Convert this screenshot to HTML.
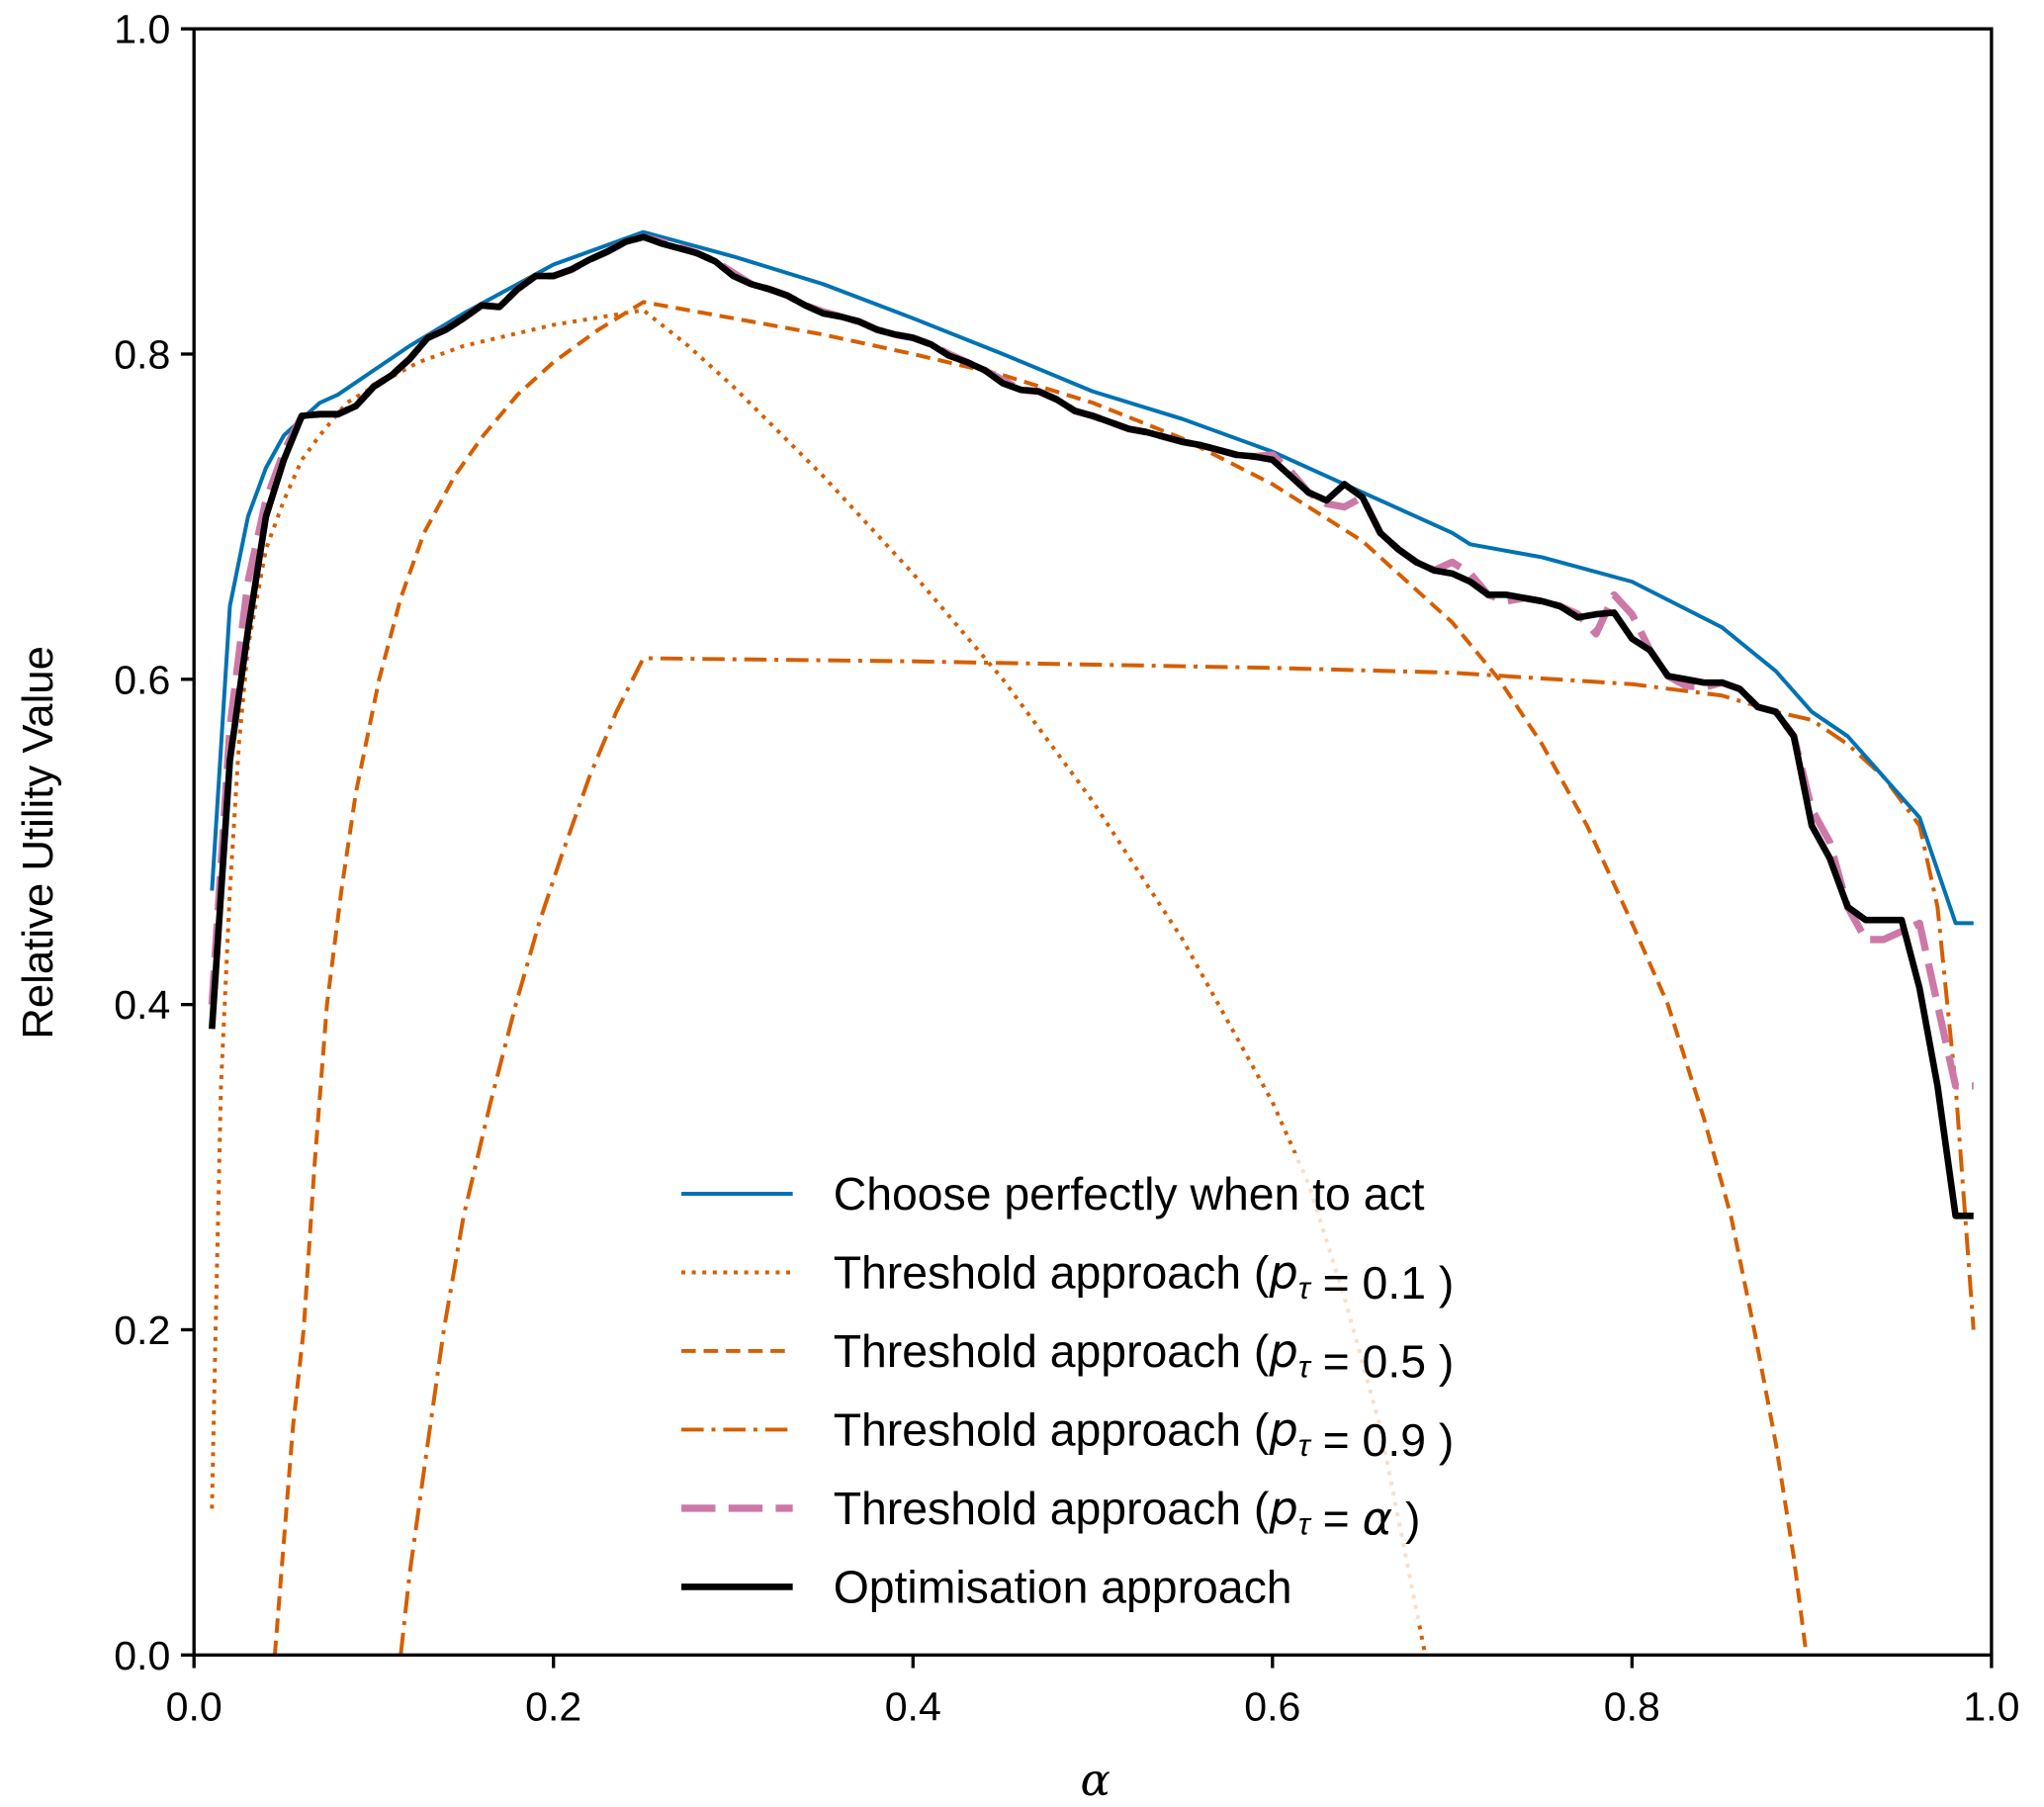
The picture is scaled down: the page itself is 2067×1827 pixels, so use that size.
<!DOCTYPE html>
<html><head><meta charset="utf-8"><style>
html,body{margin:0;padding:0;background:#fff}
svg{display:block;font-family:"Liberation Sans",sans-serif}
</style></head><body>
<svg id="chart" width="2067" height="1827" viewBox="0 0 1560 1379" xmlns="http://www.w3.org/2000/svg">
<rect x="0" y="0" width="1560" height="1379" fill="#fff"/>
<g id="series"></g>
<g id="legend"></g>
<rect x="148" y="22" width="1372" height="1241" fill="none" stroke="#000" stroke-width="2.5"/>
<g id="axes"></g>
<text transform="translate(40,643) rotate(-90)" text-anchor="middle" font-size="33">Relative Utility Value</text>
<text x="836" y="1370" text-anchor="middle" font-size="34" font-style="italic" font-family="DejaVu Serif, serif">α</text>
</svg>
<script>
const xTicks=[0,0.2,0.4,0.6,0.8,1.0];
const xTickLabels=["0.0","0.2","0.4","0.6","0.8","1.0"];
const yTicks=[0,0.2,0.4,0.6,0.8,1.0];
const yTickLabels=["0.0","0.2","0.4","0.6","0.8","1.0"];

const perfectX=[0.01,0.02,0.03,0.04,0.05,0.06,0.07,0.08,0.1,0.12,0.15,0.2,0.25,0.3,0.35,0.4,0.45,0.5,0.55,0.6,0.65,0.7,0.71,0.75,0.8,0.85,0.88,0.9,0.92,0.94,0.96,0.98,0.99];
const perfectY=[0.47,0.645,0.70,0.73,0.75,0.76,0.77,0.775,0.79,0.805,0.825,0.855,0.875,0.86,0.843,0.822,0.8,0.777,0.76,0.74,0.715,0.69,0.683,0.675,0.66,0.632,0.605,0.58,0.565,0.54,0.515,0.45,0.45];

const p01X=[0.01,0.012,0.015,0.02,0.025,0.03,0.04,0.05,0.06,0.07,0.085,0.1,0.125,0.15,0.2,0.25,0.275,0.3,0.35,0.4,0.45,0.5,0.55,0.6,0.62,0.64,0.66,0.685];
const p01Y=[0.09,0.2,0.35,0.47,0.56,0.62,0.68,0.71,0.735,0.75,0.77,0.78,0.795,0.805,0.818,0.827,0.805,0.78,0.725,0.665,0.6,0.525,0.44,0.34,0.29,0.22,0.14,0.0];

const p05X=[0.045,0.05,0.055,0.061,0.067,0.074,0.082,0.09,0.103,0.115,0.128,0.145,0.161,0.18,0.2,0.225,0.25,0.3,0.35,0.4,0.45,0.5,0.55,0.6,0.65,0.7,0.726,0.75,0.775,0.8,0.82,0.84,0.855,0.868,0.88,0.89,0.897];
const p05Y=[0.0,0.07,0.14,0.2,0.3,0.4,0.47,0.53,0.6,0.65,0.69,0.725,0.75,0.775,0.795,0.815,0.832,0.822,0.812,0.80,0.787,0.77,0.748,0.72,0.685,0.635,0.6,0.56,0.51,0.45,0.4,0.33,0.27,0.2,0.13,0.06,0.0];

const p09X=[0.115,0.12,0.13,0.139,0.15,0.165,0.179,0.192,0.204,0.22,0.235,0.25,0.4,0.6,0.7,0.8,0.85,0.88,0.9,0.92,0.94,0.96,0.97,0.98,0.99];
const p09Y=[0.0,0.05,0.13,0.2,0.27,0.34,0.4,0.45,0.49,0.54,0.58,0.613,0.611,0.607,0.604,0.597,0.59,0.58,0.575,0.56,0.54,0.51,0.46,0.35,0.2];

const optY=[0.385,0.55,0.63,0.70,0.735,0.762,0.763,0.763,0.768,0.78,0.787,0.797,0.81,0.815,0.822,0.83,0.829,0.84,0.848,0.848,0.852,0.858,0.863,0.869,0.872,0.868,0.865,0.862,0.857,0.848,0.843,0.84,0.836,0.83,0.825,0.823,0.82,0.815,0.812,0.81,0.806,0.799,0.795,0.79,0.782,0.778,0.777,0.772,0.765,0.762,0.758,0.754,0.752,0.749,0.746,0.744,0.741,0.738,0.737,0.735,0.725,0.715,0.71,0.72,0.712,0.69,0.68,0.672,0.667,0.665,0.66,0.652,0.652,0.65,0.648,0.645,0.638,0.64,0.641,0.625,0.618,0.602,0.6,0.598,0.598,0.594,0.583,0.58,0.565,0.51,0.49,0.46,0.452,0.452,0.452,0.41,0.35,0.27,0.27];
const alphaY=[0.40,0.57,0.66,0.71,0.74,0.762,0.763,0.763,0.768,0.78,0.787,0.797,0.81,0.815,0.822,0.83,0.829,0.84,0.848,0.848,0.852,0.858,0.863,0.869,0.872,0.869,0.866,0.862,0.857,0.85,0.843,0.84,0.836,0.83,0.826,0.823,0.82,0.815,0.812,0.81,0.806,0.8,0.795,0.79,0.784,0.778,0.777,0.772,0.765,0.762,0.758,0.754,0.752,0.749,0.746,0.744,0.741,0.738,0.737,0.738,0.728,0.715,0.708,0.706,0.712,0.69,0.68,0.672,0.667,0.672,0.665,0.652,0.648,0.65,0.648,0.645,0.64,0.628,0.652,0.64,0.618,0.602,0.596,0.595,0.598,0.594,0.583,0.58,0.565,0.52,0.5,0.46,0.44,0.44,0.445,0.45,0.40,0.35,0.35];
const gridAlpha=[];
for(let i=1;i<=optY.length;i++) gridAlpha.push(i/100);

const L=148,R=1520,T=22,B=1263;
const sx=v=>L+(R-L)*v;
const sy=v=>B-(B-T)*v;
const NS="http://www.w3.org/2000/svg";
function mk(tag,parent){const e=document.createElementNS(NS,tag);parent.appendChild(e);return e;}
function path(xs,ys){return xs.slice(0,ys.length).map((x,i)=>(i?"L":"M")+sx(x).toFixed(1)+","+sy(ys[i]).toFixed(1)).join("");}

const series=document.getElementById("series");
const defs=[
 {name:"line-threshold-0-1",xs:p01X,ys:p01Y,c:"#D55E00",w:3,d:"3,5"},
 {name:"line-threshold-0-5",xs:p05X,ys:p05Y,c:"#D55E00",w:3,d:"11,6"},
 {name:"line-threshold-0-9",xs:p09X,ys:p09Y,c:"#D55E00",w:3,d:"17,6,3,6"},
 {name:"line-perfect",xs:perfectX,ys:perfectY,c:"#0072B2",w:3,d:""},
 {name:"line-threshold-alpha",xs:gridAlpha,ys:alphaY,c:"#CC79A7",w:5.5,d:"26,10"},
 {name:"line-optimisation",xs:gridAlpha,ys:optY,c:"#000",w:5,d:""}
];
const clip=mk("clipPath",series);clip.setAttribute("id","pc");
const cr=mk("rect",clip);cr.setAttribute("x",L);cr.setAttribute("y",T);cr.setAttribute("width",R-L);cr.setAttribute("height",B-T);
defs.forEach(s=>{
 const p=mk("path",series);
 
 
 p.setAttribute("d",path(s.xs,s.ys));
 p.setAttribute("fill","none");p.setAttribute("stroke",s.c);p.setAttribute("stroke-width",s.w);
 p.setAttribute("stroke-linejoin","round");p.setAttribute("clip-path","url(#pc)");
 if(s.d)p.setAttribute("stroke-dasharray",s.d);
});

const axes=document.getElementById("axes");
xTicks.forEach((t,i)=>{
 const l=mk("line",axes);
 
 
 l.setAttribute("x1",sx(t));l.setAttribute("x2",sx(t));l.setAttribute("y1",B);l.setAttribute("y2",B+10);l.setAttribute("stroke","#000");l.setAttribute("stroke-width",2.5);
 const tx=mk("text",axes);
 
 
 tx.setAttribute("x",sx(t));tx.setAttribute("y",B+50);tx.setAttribute("text-anchor","middle");tx.setAttribute("font-size","31");
 tx.textContent=xTickLabels[i];
});
yTicks.forEach((t,i)=>{
 const l=mk("line",axes);
 
 
 l.setAttribute("x1",L-10);l.setAttribute("x2",L);l.setAttribute("y1",sy(t));l.setAttribute("y2",sy(t));l.setAttribute("stroke","#000");l.setAttribute("stroke-width",2.5);
 const tx=mk("text",axes);
 
 
 tx.setAttribute("x",L-18);tx.setAttribute("y",sy(t)+11);tx.setAttribute("text-anchor","end");tx.setAttribute("font-size","31");
 tx.textContent=yTickLabels[i];
});

const lg=document.getElementById("legend");
const bg=mk("rect",lg);


bg.setAttribute("x",505);bg.setAttribute("y",880);bg.setAttribute("width",640);bg.setAttribute("height",360);bg.setAttribute("fill","#fff");bg.setAttribute("fill-opacity","0.8");
const labels=["Choose perfectly when to act","Threshold approach (<I>p</I><S>τ</S> = 0.1 )","Threshold approach (<I>p</I><S>τ</S> = 0.5 )","Threshold approach (<I>p</I><S>τ</S> = 0.9 )","Threshold approach (<I>p</I><S>τ</S> = <I>α</I> )","Optimisation approach"];
const legNames=["legend-entry-perfect","legend-entry-threshold-0-1","legend-entry-threshold-0-5","legend-entry-threshold-0-9","legend-entry-threshold-alpha","legend-entry-optimisation"];
[3,0,1,2,4,5].forEach((di,row)=>{
 const s=defs[di];const y=911+row*60;
 const g=mk("g",lg);
 
 
 const l=mk("line",g);
 l.setAttribute("x1",520);l.setAttribute("x2",605);l.setAttribute("y1",y);l.setAttribute("y2",y);
 l.setAttribute("stroke",s.c);l.setAttribute("stroke-width",s.w);if(s.d)l.setAttribute("stroke-dasharray",s.d);
 const t=mk("text",g);t.setAttribute("x",636);t.setAttribute("y",y+12);t.setAttribute("font-size","35");
 t.innerHTML=labels[row].replace(/<I>(.*?)<\/I>/g,'<tspan font-style="italic" font-family="DejaVu Sans, sans-serif">$1</tspan>').replace(/<S>(.*?)<\/S>/g,'<tspan font-size="24" dy="8" font-style="italic">$1</tspan><tspan dy="-8"></tspan>');
});
</script>
</body></html>
